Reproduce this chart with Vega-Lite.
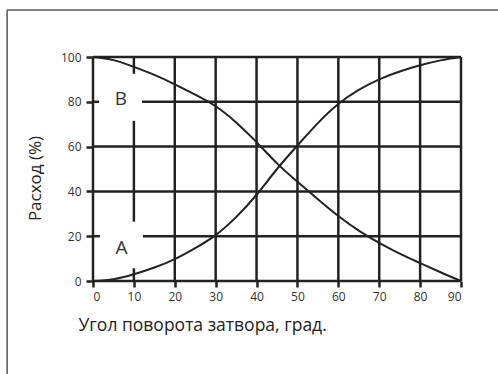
{
  "$schema": "https://vega.github.io/schema/vega-lite/v6.json",
  "width": 368,
  "height": 224,
  "autosize": "none",
  "padding": {"left": 93, "top": 57, "right": 37, "bottom": 93},
  "background": "white",
  "config": {
    "view": {"stroke": null},
    "font": "Open Sans"
  },
  "datasets": {
    "curves": [
      {"angle": 0, "flow": 0, "series": "A"},
      {"angle": 5, "flow": 0.8, "series": "A"},
      {"angle": 10, "flow": 3, "series": "A"},
      {"angle": 15, "flow": 6, "series": "A"},
      {"angle": 20, "flow": 9.8, "series": "A"},
      {"angle": 25, "flow": 14.7, "series": "A"},
      {"angle": 30, "flow": 20.5, "series": "A"},
      {"angle": 35, "flow": 28.5, "series": "A"},
      {"angle": 40, "flow": 38.5, "series": "A"},
      {"angle": 45, "flow": 50, "series": "A"},
      {"angle": 50, "flow": 60.5, "series": "A"},
      {"angle": 55, "flow": 70.5, "series": "A"},
      {"angle": 60, "flow": 79, "series": "A"},
      {"angle": 65, "flow": 85.3, "series": "A"},
      {"angle": 70, "flow": 90, "series": "A"},
      {"angle": 75, "flow": 93.5, "series": "A"},
      {"angle": 80, "flow": 96.3, "series": "A"},
      {"angle": 85, "flow": 98.5, "series": "A"},
      {"angle": 90, "flow": 100, "series": "A"},
      {"angle": 0, "flow": 100, "series": "B"},
      {"angle": 5, "flow": 98.6, "series": "B"},
      {"angle": 10, "flow": 95.6, "series": "B"},
      {"angle": 15, "flow": 92, "series": "B"},
      {"angle": 20, "flow": 87.8, "series": "B"},
      {"angle": 25, "flow": 83.2, "series": "B"},
      {"angle": 30, "flow": 78, "series": "B"},
      {"angle": 35, "flow": 70.8, "series": "B"},
      {"angle": 40, "flow": 62, "series": "B"},
      {"angle": 45, "flow": 52.5, "series": "B"},
      {"angle": 50, "flow": 44.3, "series": "B"},
      {"angle": 55, "flow": 36.5, "series": "B"},
      {"angle": 60, "flow": 29, "series": "B"},
      {"angle": 65, "flow": 22.5, "series": "B"},
      {"angle": 70, "flow": 17, "series": "B"},
      {"angle": 75, "flow": 12.2, "series": "B"},
      {"angle": 80, "flow": 8, "series": "B"},
      {"angle": 85, "flow": 3.9, "series": "B"},
      {"angle": 90, "flow": 0, "series": "B"}
    ],
    "grid": [
      {"x": 0, "x2": 0, "y": 0, "y2": 100},
      {"x": 20, "x2": 20, "y": 0, "y2": 100},
      {"x": 30, "x2": 30, "y": 0, "y2": 100},
      {"x": 40, "x2": 40, "y": 0, "y2": 100},
      {"x": 50, "x2": 50, "y": 0, "y2": 100},
      {"x": 60, "x2": 60, "y": 0, "y2": 100},
      {"x": 70, "x2": 70, "y": 0, "y2": 100},
      {"x": 80, "x2": 80, "y": 0, "y2": 100},
      {"x": 90, "x2": 90, "y": 0, "y2": 100},
      {"x": 10, "x2": 10, "y": 92.5, "y2": 100},
      {"x": 10, "x2": 10, "y": 26.5, "y2": 71.5},
      {"x": 10, "x2": 10, "y": 0, "y2": 5.7},
      {"x": 0, "x2": 90, "y": 0, "y2": 0},
      {"x": 0, "x2": 90, "y": 40, "y2": 40},
      {"x": 0, "x2": 90, "y": 60, "y2": 60},
      {"x": 0, "x2": 90, "y": 100, "y2": 100},
      {"x": 0, "x2": 1.5, "y": 80, "y2": 80},
      {"x": 12, "x2": 90, "y": 80, "y2": 80},
      {"x": 0, "x2": 1.7, "y": 20, "y2": 20},
      {"x": 12.2, "x2": 90, "y": 20, "y2": 20}
    ],
    "frame": [
      {"x": -21, "x2": -21, "y": -45, "y2": 121},
      {"x": -21, "x2": 100, "y": 121, "y2": 121}
    ],
    "labels": [
      {"angle": 6.8, "flow": 81.3, "text": "B"},
      {"angle": 7.0, "flow": 14.6, "text": "A"}
    ]
  },
  "layer": [
    {
      "data": {"name": "grid"},
      "mark": {"type": "rule", "color": "#222222", "strokeWidth": 2.5},
      "encoding": {
        "x": {
          "field": "x", "type": "quantitative",
          "scale": {"domain": [0, 90], "nice": false, "zero": false},
          "axis": {
            "title": "Угол поворота затвора, град.",
            "values": [0, 10, 20, 30, 40, 50, 60, 70, 80, 90],
            "grid": false, "domain": false,
            "tickSize": 6, "tickWidth": 2.5, "tickColor": "#222222",
            "labelFont": "Open Sans", "labelFontSize": 12, "labelColor": "#333333", "labelPadding": 4,
            "titleFont": "Open Sans", "titleFontSize": 17.5, "titleFontWeight": "normal", "titleColor": "#222222",
            "titleAnchor": "start", "titleAlign": "left", "titleBaseline": "alphabetic",
            "titleX": -15, "titleY": 49
          }
        },
        "x2": {"field": "x2"},
        "y": {
          "field": "y", "type": "quantitative",
          "scale": {"domain": [0, 100], "nice": false, "zero": false},
          "axis": {
            "title": "Расход (%)",
            "values": [0, 20, 40, 60, 80, 100],
            "grid": false, "domain": false,
            "tickSize": 7, "tickWidth": 2.5, "tickColor": "#222222",
            "labelFont": "Open Sans", "labelFontSize": 12, "labelColor": "#333333", "labelPadding": 5,
            "titleFont": "Open Sans", "titleFontSize": 17, "titleFontWeight": "normal", "titleColor": "#222222",
            "titleAngle": -90, "titleAlign": "center", "titleBaseline": "middle",
            "titleX": -58, "titleY": 121
          }
        },
        "y2": {"field": "y2"}
      }
    },
    {
      "data": {"name": "frame"},
      "mark": {"type": "rule", "color": "#555555", "strokeWidth": 1.5},
      "encoding": {
        "x": {"field": "x", "type": "quantitative"},
        "x2": {"field": "x2"},
        "y": {"field": "y", "type": "quantitative"},
        "y2": {"field": "y2"}
      }
    },
    {
      "data": {"name": "curves"},
      "mark": {"type": "line", "color": "#222222", "strokeWidth": 2, "interpolate": "natural"},
      "encoding": {
        "x": {"field": "angle", "type": "quantitative"},
        "y": {"field": "flow", "type": "quantitative"},
        "detail": {"field": "series"}
      }
    },
    {
      "data": {"name": "labels"},
      "mark": {"type": "text", "font": "Open Sans", "fontSize": 19, "color": "#333333", "baseline": "middle", "align": "center"},
      "encoding": {
        "x": {"field": "angle", "type": "quantitative"},
        "y": {"field": "flow", "type": "quantitative"},
        "text": {"field": "text"}
      }
    }
  ]
}
